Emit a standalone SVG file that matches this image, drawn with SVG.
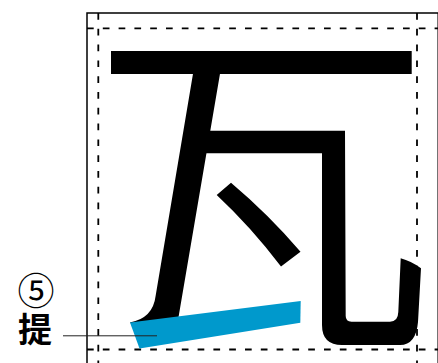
<svg xmlns="http://www.w3.org/2000/svg" width="438" height="363" viewBox="0 0 438 363">
  <style>
    .frame { stroke: #000; stroke-width: 1.5; fill: none; }
    .guide { stroke: #000; stroke-width: 1.8; fill: none; stroke-dasharray: 6.7 9.1; }
    .ink { fill: #000; }
    .hl { fill: #0099cc; }
    .lbl { font-family: "Noto Sans CJK JP", "Noto Sans CJK SC", sans-serif; fill: #000; text-anchor: middle; }
    .leader { stroke: #222; stroke-width: 1; fill: none; }
  </style>
  <rect width="438" height="363" fill="#fff"/>
  <g id="grid">
    <path class="frame" d="M87,363 V13 H438"/>
    <path d="M437.6,13 V363" stroke="#000" stroke-width="1.2" fill="none" opacity="0.55"/>
    <path class="guide" d="M98.3,13 V363"/>
    <path class="guide" d="M417,13 V363"/>
    <path class="guide" d="M87,28.3 H438"/>
    <path class="guide" d="M87,349.5 H438"/>
  </g>
  <g id="stroke1">
    <rect class="ink" x="111" y="51" width="300.7" height="23"/>
  </g>
  <g id="stroke2">
    <path class="ink" d="M193.3,72 L220.3,72 L177,326 L140,332 L130,322.5 Q153,318 155.6,296 Z"/>
  </g>
  <g id="stroke3">
    <path class="ink" d="M205,130.7 L345,130.7 L345.7,316 Q345.7,321.7 351.5,321.7 L390,321.7 Q398,321.7 398.3,312 L400.7,258.3 Q411,261 421,268.3 L418,322 Q416,345 400,345 L342,345 Q322,345 322,325 L322,153.3 L201,153.3 Z"/>
  </g>
  <g id="stroke4">
    <path class="ink" d="M216.7,195 L231,182.8 Q268,214 300.5,251.7 L281,266.5 Q251,227 216.7,195 Z"/>
  </g>
  <g id="stroke5">
    <path class="hl" d="M130,322.5 L300.7,301 L300.3,322.7 L139.5,348.5 Z"/>
  </g>
  <g id="connectors">
    <path class="leader" d="M63,335.8 H157"/>
  </g>
  <g id="label">
    <text class="lbl" x="36" y="305" font-size="37">⑤</text>
    <text class="lbl" x="35" y="342" font-size="34" font-weight="bold">提</text>
  </g>
</svg>
